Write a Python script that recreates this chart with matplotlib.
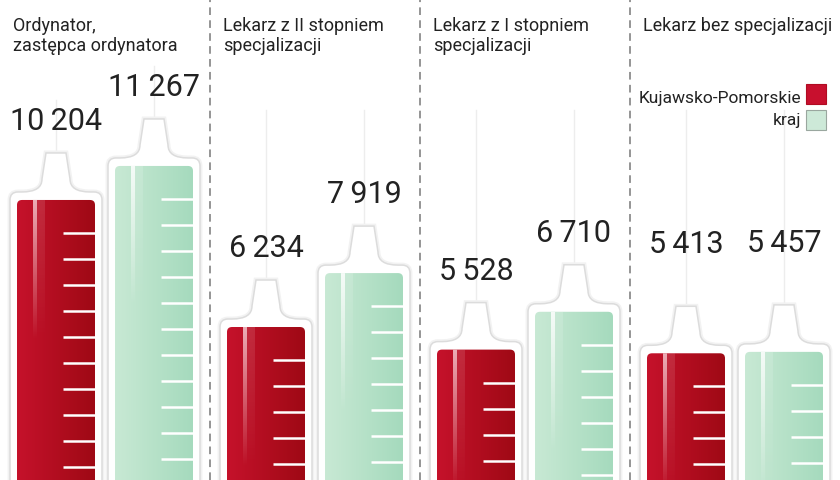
import numpy as np
import matplotlib
matplotlib.use("Agg")
import matplotlib.pyplot as plt
from matplotlib.patches import PathPatch, FancyBboxPatch, Rectangle
from matplotlib.path import Path
from matplotlib.colors import to_rgb

# dane
categories = ["Ordynator,\nzastępca ordynatora",
              "Lekarz z II stopniem\nspecjalizacji",
              "Lekarz z I stopniem\nspecjalizacji",
              "Lekarz bez specjalizacji"]
region = [10204, 6234, 5528, 5413]   # Kujawsko-Pomorskie
kraj = [11267, 7919, 6710, 5457]     # kraj
series_names = ["Kujawsko-Pomorskie", "kraj"]

plt.rcParams['font.family'] = ['Roboto', 'DejaVu Sans']
plt.rcParams['lines.scale_dashes'] = False

# skala: 1 grupa = 210 px, 1 px = 31.25 jednostek na osi y
PXV = 31.25
Y0 = 1453
Y1 = Y0 + 480 * PXV


def X(p):
    return p / 210.0


def Y(p):
    return p * PXV


def ypx(p):
    # pozycja w pikselach od gory -> wartosc
    return Y1 - p * PXV


fig = plt.figure(figsize=(8.4, 4.8), dpi=100)
ax = fig.add_axes([0, 0, 1, 1])
ax.set_axis_off()

colors = {
    0: ("#c5122b", "#9f0915", "#f4c9cf"),
    1: ("#c8e9d4", "#a5dabd", "#ffffff"),
}
label_lift = [70, 70, 70, 100]
W = X(78)


def syringe(xc, v, s, lift):
    x0, x1 = xc - W / 2, xc + W / 2
    m = X(7)
    yo = v + Y(8)
    verts = [(x0 - m, 0), (x0 - m, yo - Y(8)),
             (x0 - m, yo), (x0 - m + X(8), yo),
             (x0 + X(5), yo),
             (xc - X(14), yo), (xc - X(14), v + Y(21)),
             (xc - X(10), v + Y(47)), (xc + X(10), v + Y(47)),
             (xc + X(14), v + Y(21)),
             (xc + X(14), yo), (x1 - X(5), yo),
             (x1 + m - X(8), yo),
             (x1 + m, yo), (x1 + m, yo - Y(8)),
             (x1 + m, 0), (x0 - m, 0)]
    codes = [Path.MOVETO, Path.LINETO,
             Path.CURVE3, Path.CURVE3,
             Path.LINETO,
             Path.CURVE3, Path.CURVE3,
             Path.LINETO, Path.LINETO,
             Path.LINETO,
             Path.CURVE3, Path.CURVE3,
             Path.LINETO,
             Path.CURVE3, Path.CURVE3,
             Path.LINETO, Path.CLOSEPOLY]
    path = Path(verts, codes)
    ax.add_patch(PathPatch(path, fc="none", ec="#f2f2f2", lw=3.5, zorder=2))
    ax.add_patch(PathPatch(path, fc="white", ec="#dcdcdc", lw=1.1, zorder=2.1))

    # igla
    label_y = v + Y(lift)
    ntop = max(ypx(110), label_y + Y(30))
    ax.plot([xc, xc], [v + Y(47), ntop], color="#ededed", lw=1, zorder=1.5)

    # tlok z gradientem
    body = FancyBboxPatch((x0, 0), W, v, boxstyle="round,pad=0,rounding_size=%f" % X(5),
                          mutation_aspect=PXV * 210, fc="none", ec="none", zorder=3)
    ax.add_patch(body)
    c_left, c_right, c_hi = colors[s]
    t = np.linspace(0, 1, 64)[None, :, None]
    grad = (1 - t) * np.array(to_rgb(c_left)) + t * np.array(to_rgb(c_right))
    im = ax.imshow(grad, extent=(x0, x1, 0, v), aspect="auto", zorder=3, interpolation="bilinear")
    im.set_clip_path(body)

    # odblask
    a = np.linspace(0.85, 0.0, 64)[:, None]
    hi = np.zeros((64, 1, 4))
    hi[..., :3] = to_rgb(c_hi)
    hi[..., 3] = a
    im2 = ax.imshow(hi, extent=(x0 + X(16), x0 + X(20), v - Y(140), v), aspect="auto",
                    zorder=3.2, interpolation="bilinear")
    im2.set_clip_path(body)
    band = hi.copy()
    band[..., 3] = a * 0.18
    im3 = ax.imshow(band, extent=(x0 + X(20), x0 + X(28), v - Y(140), v), aspect="auto",
                    zorder=3.1, interpolation="bilinear")
    im3.set_clip_path(body)

    # podzialka
    k = 0
    while v - Y(33 + 26 * k) > Y0:
        yy = v - Y(33 + 26 * k)
        ax.plot([x0 + X(46), x1], [yy, yy], color="white", lw=1.8, zorder=3.5,
                solid_capstyle="butt")
        k += 1

    ax.text(xc, label_y, "{:,}".format(v).replace(",", "\u2009"), ha="center", va="baseline",
            fontsize=22, color="#222222", zorder=5)


for i in range(len(categories)):
    syringe(i + X(56), region[i], 0, label_lift[i])
    syringe(i + X(154), kraj[i], 1, label_lift[i])
    ax.text(i + X(13), ypx(17), categories[i], ha="left", va="top", fontsize=13,
            color="#222222", linespacing=1.15, zorder=5)

for i in range(1, len(categories)):
    ax.axvline(i, color="#8c8c8c", lw=1.3, dashes=(5.5, 3.8), zorder=1)

# legenda
ax.text(X(801), ypx(103), series_names[0], ha="right", va="baseline", fontsize=12.5,
        color="#222222", zorder=5)
ax.text(X(801), ypx(125), series_names[1], ha="right", va="baseline", fontsize=12.5,
        color="#222222", zorder=5)
ax.add_patch(Rectangle((X(806), ypx(104)), X(20), Y(20), fc="#c8102e", ec="#b00c22", lw=0.8, zorder=5))
ax.add_patch(Rectangle((X(806), ypx(130)), X(20), Y(20), fc="#cde9d8", ec="#9aa79f", lw=0.8, zorder=5))

ax.set_xlim(0, 4)
ax.set_ylim(Y0, Y1)
fig.savefig("out.png", dpi=100)
